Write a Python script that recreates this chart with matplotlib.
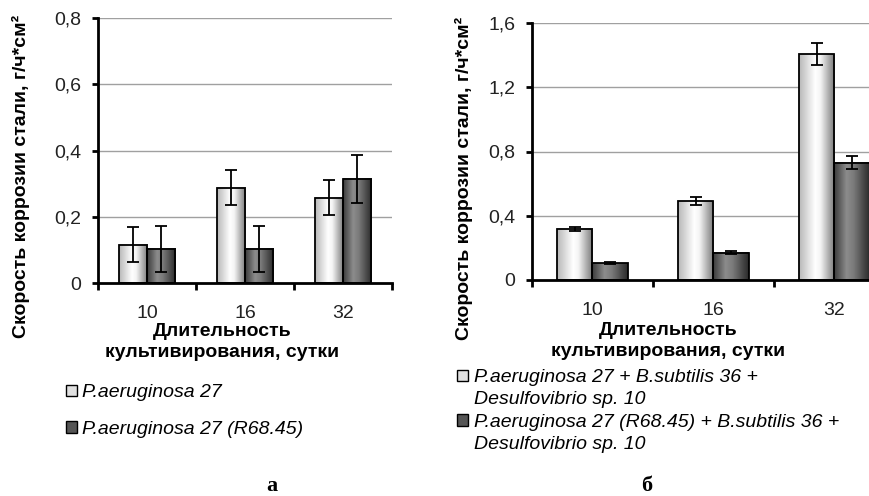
import numpy as np
import matplotlib.pyplot as plt
from matplotlib.colors import LinearSegmentedColormap
from matplotlib.patches import Rectangle

plt.rcParams['font.family'] = ['Liberation Sans', 'DejaVu Sans']

days = ['10', '16', '32']

# chart а
a_light = [0.115, 0.287, 0.257]
a_light_err = [0.053, 0.053, 0.053]
a_dark = [0.103, 0.103, 0.314]
a_dark_err = [0.070, 0.070, 0.071]
a_labels = ['P.aeruginosa 27', 'P.aeruginosa 27 (R68.45)']

# chart б (legend labels wrap onto a second line)
b_light = [0.318, 0.490, 1.407]
b_light_err = [0.015, 0.025, 0.070]
b_dark = [0.105, 0.170, 0.729]
b_dark_err = [0.006, 0.010, 0.040]
b_labels = ['P.aeruginosa 27 + B.subtilis 36 +', 'Desulfovibrio sp. 10',
            'P.aeruginosa 27 (R68.45) + B.subtilis 36 +', 'Desulfovibrio sp. 10']

ylabel = 'Скорость коррозии стали, г/ч*см²'
xlabel = 'Длительность\nкультивирования, сутки'

light_cmap = LinearSegmentedColormap.from_list(
    'light', [(0, '#b8b8b8'), (0.45, '#ffffff'), (0.6, '#f4f4f4'), (1, '#7a7a7a')])
dark_cmap = LinearSegmentedColormap.from_list(
    'dark', [(0, '#3c3c3c'), (0.35, '#8c8c8c'), (0.55, '#7a7a7a'), (1, '#2a2a2a')])

W, H = 870, 496
fig = plt.figure(figsize=(W / 100, H / 100), dpi=100)


def px(x0, y_top, x1, y_bot):
    return [x0 / W, 1 - y_bot / H, (x1 - x0) / W, (y_bot - y_top) / H]


def shade(ax, bars, cmap):
    grad = np.linspace(0, 1, 64).reshape(1, -1)
    for b in bars:
        x0, w, h = b.get_x(), b.get_width(), b.get_height()
        ax.imshow(grad, cmap=cmap, extent=[x0, x0 + w, 0, h], aspect='auto',
                  zorder=2, interpolation='bilinear')
        b.set_facecolor('none')
        b.set_zorder(3)


def draw(ax, light, light_err, dark, dark_err, ymax, step):
    x = np.arange(len(days))
    w = 0.29
    b1 = ax.bar(x - w / 2, light, w, color='#e8e8e8', edgecolor='black', linewidth=1.3)
    b2 = ax.bar(x + w / 2, dark, w, color='#5a5a5a', edgecolor='black', linewidth=1.3)
    shade(ax, b1, light_cmap)
    shade(ax, b2, dark_cmap)
    ax.errorbar(x - w / 2, light, yerr=light_err, fmt='none', ecolor='black',
                elinewidth=1.3, capsize=4, capthick=1.3, zorder=4)
    ax.errorbar(x + w / 2, dark, yerr=dark_err, fmt='none', ecolor='black',
                elinewidth=1.3, capsize=4, capthick=1.3, zorder=4)
    ax.set_xlim(-0.5, len(days) - 0.5)
    ax.set_ylim(0, ymax)
    yt = np.arange(0, ymax + step / 2, step)
    ax.set_yticks(yt)
    ax.set_yticklabels(['0' if v == 0 else f'{v:.1f}'.replace('.', ',') for v in yt],
                       fontsize=14, color='#222222')
    for v in yt[1:]:
        ax.axhline(v, color='#a0a0a0', lw=1, zorder=0)
    ax.set_xticks(np.arange(len(days) + 1) - 0.5)
    ax.set_xticklabels([])
    ax.set_xticks(x, minor=True)
    ax.set_xticklabels(days, minor=True, fontsize=14, color='#222222')
    ax.tick_params(axis='x', which='minor', length=0, pad=16)
    ax.tick_params(axis='x', which='major', length=5, width=2, direction='out')
    ax.tick_params(axis='y', length=4, width=2, pad=8)
    for s in ['top', 'right']:
        ax.spines[s].set_visible(False)
    ax.spines['left'].set_linewidth(2)
    ax.spines['bottom'].set_linewidth(2)
    return b1, b2


ax1 = fig.add_axes(px(98, 18, 392, 283))
draw(ax1, a_light, a_light_err, a_dark, a_dark_err, 0.8, 0.2)
ax2 = fig.add_axes(px(532, 23, 895, 280))
draw(ax2, b_light, b_light_err, b_dark, b_dark_err, 1.6, 0.4)

fig.text(21 / W, 1 - 176 / H, ylabel, rotation=90, ha='center', va='center',
         fontsize=14, fontweight='bold')
fig.text(464 / W, 1 - 178 / H, ylabel, rotation=90, ha='center', va='center',
         fontsize=14, fontweight='bold')
fig.text(222 / W, 1 - 342 / H, xlabel, ha='center', va='center',
         fontsize=14, fontweight='bold', linespacing=1.35)
fig.text(668 / W, 1 - 341 / H, xlabel, ha='center', va='center',
         fontsize=14, fontweight='bold', linespacing=1.35)

light_h = Rectangle((0, 0), 1, 1, fc='#e0e0e0', ec='black', lw=1)
dark_h = Rectangle((0, 0), 1, 1, fc='#555555', ec='black', lw=1)
blank_h = Rectangle((0, 0), 1, 1, fc='none', ec='none')

fig.legend([light_h, dark_h], a_labels, loc='center left',
           bbox_to_anchor=(66 / W, 1 - 411 / H),
           frameon=False, prop={'style': 'italic', 'size': 14},
           handlelength=0.55, handleheight=0.55, handletextpad=0.25,
           labelspacing=1.0, borderpad=0, borderaxespad=0)
fig.legend([light_h, blank_h, dark_h, blank_h], b_labels, loc='center left',
           bbox_to_anchor=(457 / W, 1 - 411 / H),
           frameon=False, prop={'style': 'italic', 'size': 14},
           handlelength=0.55, handleheight=0.55, handletextpad=0.35,
           labelspacing=0.26, borderpad=0, borderaxespad=0)

fig.text(272 / W, 1 - 486 / H, 'а', ha='center', va='center', fontsize=16,
         fontweight='bold', family='Liberation Serif')
fig.text(647 / W, 1 - 486 / H, 'б', ha='center', va='center', fontsize=16,
         fontweight='bold', family='Liberation Serif')

fig.savefig('out.png', dpi=100)
